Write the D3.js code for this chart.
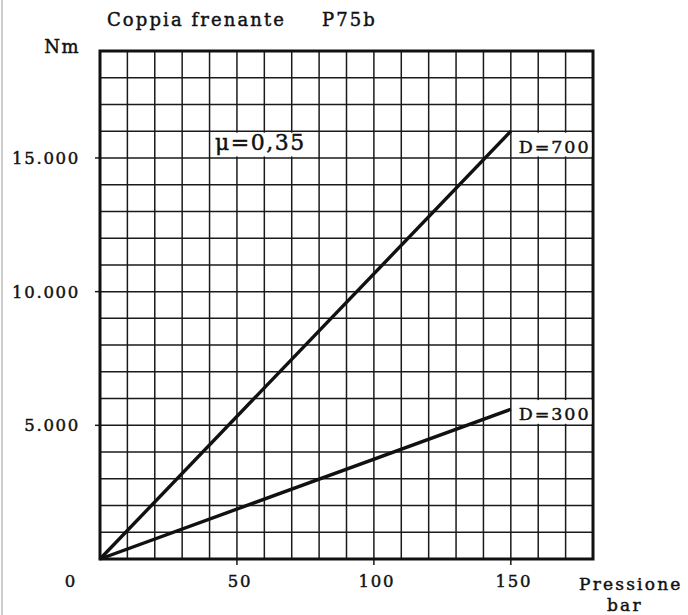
<!DOCTYPE html>
<html>
<head>
<meta charset="utf-8">
<script src="https://cdn.jsdelivr.net/npm/d3@7"></script>
<style>
    body { margin: 0; background: #fff; }
    text { font-family: "DejaVu Serif", serif; fill: #111; stroke: #111; stroke-width: 0.45; }
    .grid { stroke: #1a1a1a; stroke-width: 1.5; }
    .frame { fill: none; stroke: #111; stroke-width: 3; }
    .curve { stroke: #111; stroke-width: 3.4; fill: none; }
</style>
</head>
<body>
<script>
// values
var pressione = [0, 150];
var coppiaD700 = [0, 16000];
var coppiaD300 = [0, 5600];
var serie = ["D=700", "D=300"];
var xTicks = [50, 100, 150];
var yTicks = [5000, 10000, 15000];
var yTickLabels = ["5.000", "10.000", "15.000"];

function coppiaChart() {

    this.init = function () {
        var svg = d3.select("body")
            .append("svg")
            .attr("width", 688)
            .attr("height", 615);

        var x = d3.scaleLinear().domain([0, 180]).range([100, 593]);
        var y = d3.scaleLinear().domain([0, 19000]).range([559, 51]);

        // scan edge
        svg.append("line")
            .attr("x1", 2).attr("x2", 2).attr("y1", 0).attr("y2", 615)
            .attr("stroke", "#bbb").attr("stroke-width", 1.5);

        this.drawGrid(svg, x, y);
        this.drawLines(svg, x, y);
        this.drawLabels(svg, x, y);
    };


    this.drawGrid = function (svg, x, y) {
        svg.selectAll(".vgrid")
            .data(d3.range(10, 180, 10))
            .enter().append("line")
            .attr("class", "grid")
            .attr("x1", function (d) { return x(d); })
            .attr("x2", function (d) { return x(d); })
            .attr("y1", y(19000))
            .attr("y2", y(0));

        svg.selectAll(".hgrid")
            .data(d3.range(1000, 19000, 1000))
            .enter().append("line")
            .attr("class", "grid")
            .attr("x1", x(0))
            .attr("x2", x(180))
            .attr("y1", function (d) { return y(d); })
            .attr("y2", function (d) { return y(d); });

        // small ticks outside the frame on the labelled values
        svg.selectAll(".xtick")
            .data(xTicks)
            .enter().append("line")
            .attr("class", "grid")
            .attr("x1", function (d) { return x(d); })
            .attr("x2", function (d) { return x(d); })
            .attr("y1", y(0))
            .attr("y2", y(0) + 6);

        svg.selectAll(".ytick")
            .data(yTicks)
            .enter().append("line")
            .attr("class", "grid")
            .attr("x1", x(0) - 5)
            .attr("x2", x(0))
            .attr("y1", function (d) { return y(d); })
            .attr("y2", function (d) { return y(d); });

        svg.append("rect")
            .attr("class", "frame")
            .attr("x", x(0))
            .attr("y", y(19000))
            .attr("width", x(180) - x(0))
            .attr("height", y(0) - y(19000));
    };


    this.drawLines = function (svg, x, y) {
        var line = d3.line()
            .x(function (d) { return x(d[0]); })
            .y(function (d) { return y(d[1]); });

        [coppiaD700, coppiaD300].forEach(function (valori) {
            svg.append("path")
                .attr("class", "curve")
                .attr("d", line(d3.zip(pressione, valori)));
        });
    };


    this.drawLabels = function (svg, x, y) {
        svg.append("text").attr("x", 107).attr("y", 26)
            .attr("font-size", 18).attr("letter-spacing", 2.1)
            .text("Coppia frenante");
        svg.append("text").attr("x", 322).attr("y", 26)
            .attr("font-size", 18).attr("letter-spacing", 2.1)
            .text("P75b");

        svg.append("text").attr("x", 80).attr("y", 53)
            .attr("text-anchor", "end")
            .attr("font-size", 18).attr("letter-spacing", 1.5)
            .text("Nm");

        svg.selectAll(".ylab")
            .data(yTicks)
            .enter().append("text")
            .attr("x", 80)
            .attr("y", function (d) { return y(d) + 6; })
            .attr("text-anchor", "end")
            .attr("font-size", 16.5).attr("letter-spacing", 1.7)
            .text(function (d, i) { return yTickLabels[i]; });

        svg.selectAll(".xlab")
            .data(xTicks)
            .enter().append("text")
            .attr("x", function (d) { return x(d) + 3; })
            .attr("y", 587)
            .attr("text-anchor", "middle")
            .attr("font-size", 16.5).attr("letter-spacing", 1.7)
            .text(function (d) { return d; });

        svg.append("text").attr("x", 70).attr("y", 587)
            .attr("text-anchor", "middle").attr("font-size", 16.5)
            .text("0");

        svg.append("text").attr("x", 579).attr("y", 590)
            .attr("font-size", 17).attr("letter-spacing", 2.2)
            .text("Pressione");
        svg.append("text").attr("x", 607).attr("y", 611)
            .attr("font-size", 17).attr("letter-spacing", 2.2)
            .text("bar");

        // series labels sitting in a white box at the end of each line
        var ends = [coppiaD700[1], coppiaD300[1]];
        serie.forEach(function (nome, i) {
            var top = Math.ceil(ends[i] / 1000) * 1000;
            var bottom = top - 1000;
            svg.append("rect")
                .attr("x", x(150) + 3)
                .attr("y", y(top) + 1.5)
                .attr("width", x(180) - x(150) - 4.5)
                .attr("height", y(bottom) - y(top) - 3)
                .attr("fill", "#fff");
            svg.append("text")
                .attr("x", x(150) + 8)
                .attr("y", y(bottom) - 5)
                .attr("font-size", 17.5).attr("letter-spacing", 1.9)
                .text(nome);
        });

        svg.append("rect")
            .attr("x", x(40) + 1.5)
            .attr("y", y(16000) + 1.5)
            .attr("width", x(72) - x(40))
            .attr("height", y(15000) - y(16000) - 3)
            .attr("fill", "#fff");
        svg.append("text")
            .attr("x", 215).attr("y", 150)
            .attr("font-family", "'Liberation Sans', Arial, sans-serif")
            .attr("font-size", 22).attr("letter-spacing", 1.5)
            .attr("stroke-width", 0.2)
            .text("\u03bc=0,35");
    };

}


window.onload = function () {
    new coppiaChart().init();
};
</script>
</body>
</html>
